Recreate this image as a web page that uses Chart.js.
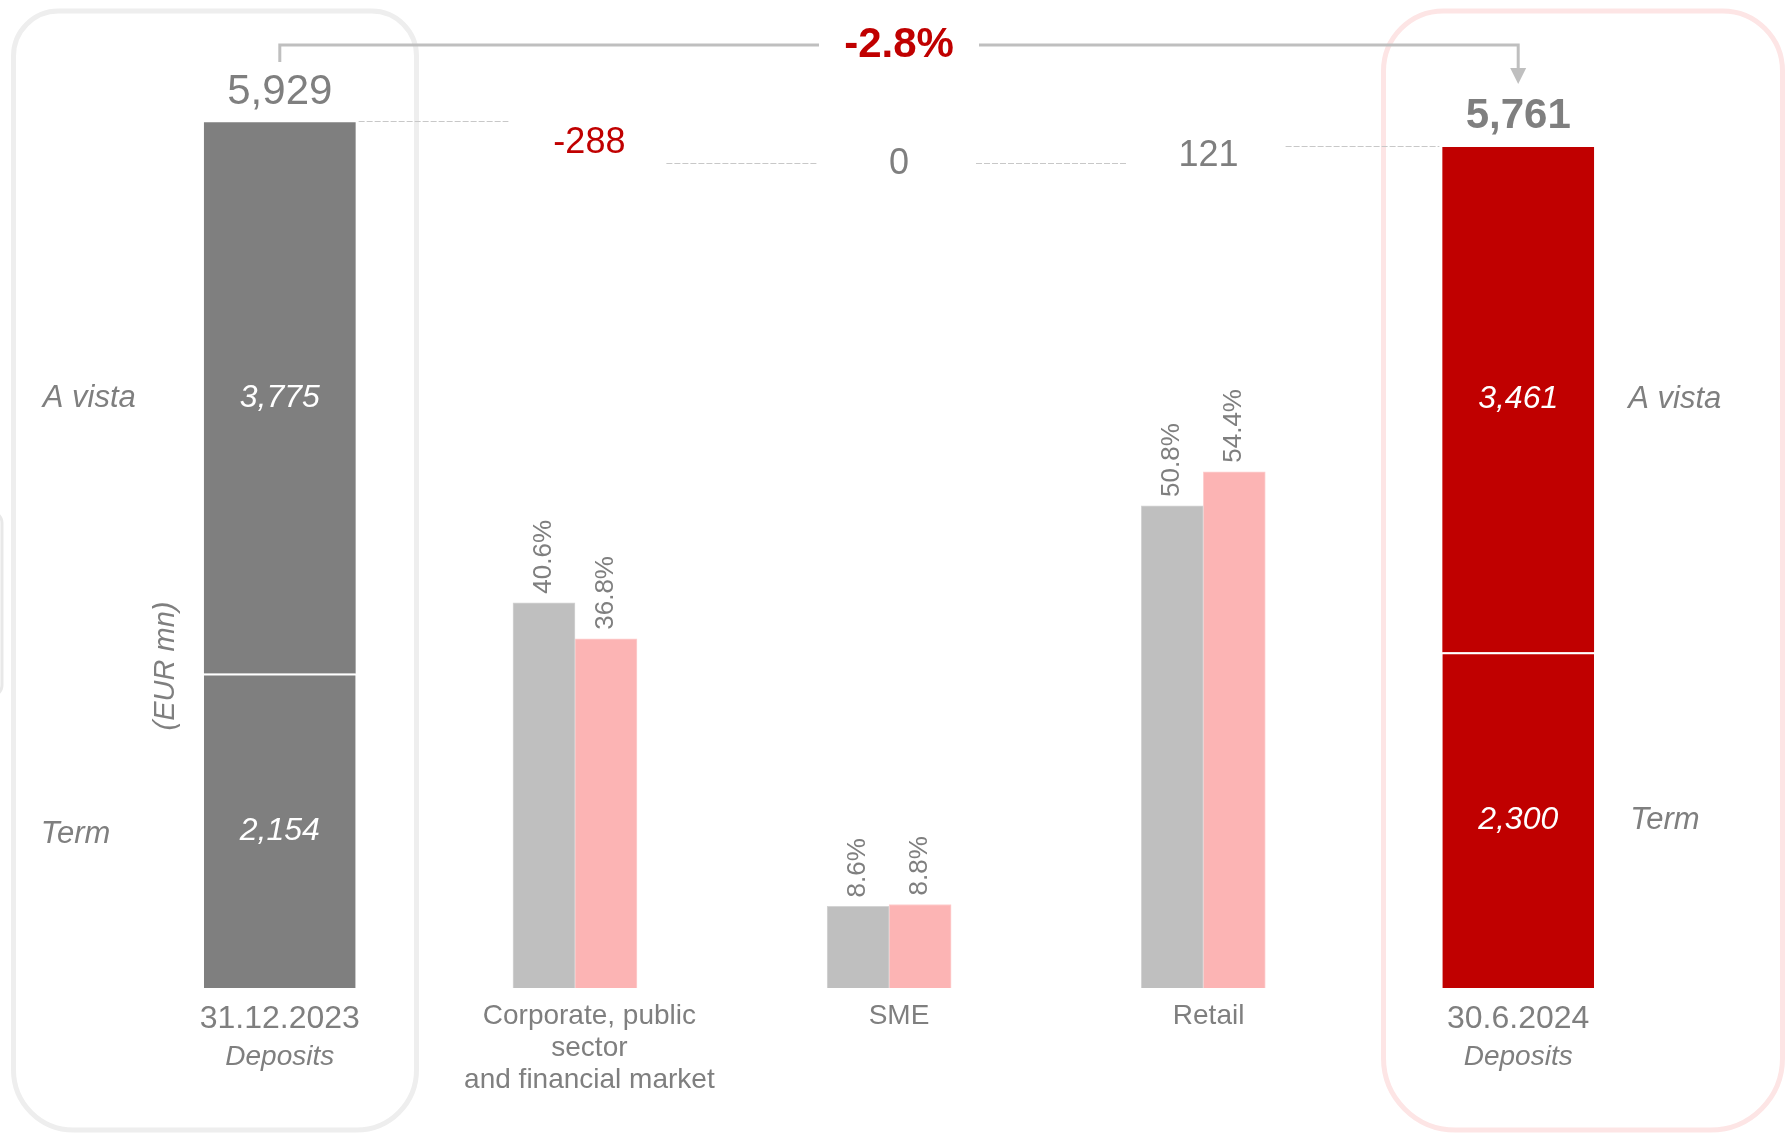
<!DOCTYPE html>
<html>
<head>
<meta charset="utf-8">
<title>Deposits bridge</title>
<script src="https://cdn.jsdelivr.net/npm/chart.js@4.4.1/dist/chart.umd.min.js"></script>
<style>
  html, body { margin: 0; padding: 0; background: #ffffff; }
  #wrap { width: 1786px; height: 1135px; position: relative; }
  canvas { display: block; }
</style>
</head>
<body>
<div id="wrap"><canvas id="chart" width="1786" height="1135"></canvas></div>
<script>
// ---- data -------------------------------------------------------------
const categories = ['31.12.2023', ['Corporate, public', 'sector', 'and financial market'], 'SME', 'Retail', '30.6.2024'];
const termDeposits   = [2154, null, null, null, 2300];
const aVistaDeposits = [3775, null, null, null, 3461];
const segmentChanges = [null, -288, 0, 121, null];
const share2023 = [null, 40.6, 8.6, 50.8, null];
const share2024 = [null, 36.8, 8.8, 54.4, null];

const aVistaLabel = 'A vista';
const termLabel = 'Term';
const unitLabel = '(EUR mn)';
const depositsCaption = 'Deposits';

// ---- derived values ---------------------------------------------------
const depositTotals = termDeposits.map((t, i) => (t == null ? null : t + aVistaDeposits[i]));
const firstTotal = depositTotals[0];
const lastTotal = depositTotals[depositTotals.length - 1];
const totalChangePct = (lastTotal - firstTotal) / firstTotal * 100;

// floating ranges for the segment steps of the bridge
let runningLevel = firstTotal;
const bridgeRanges = segmentChanges.map(d => {
  if (d == null) return null;
  const r = [runningLevel, runningLevel + d];
  runningLevel += d;
  return r;
});

// segment shares keyed by category index for the share axis
const toIndexed = arr => arr.map((v, i) => ({ x: i, y: v }));

// ---- styling ----------------------------------------------------------
const GREY_TEXT = '#7f7f7f';
const RED = '#c00000';
const depositColors = ['#7f7f7f', null, null, null, '#c00000'];
const FONT = "'Liberation Sans', Arial, Helvetica, sans-serif";
Chart.defaults.font.family = FONT;

const fmt = v => v.toLocaleString('en-US');

function text(ctx, str, x, y, opts) {
  ctx.save();
  ctx.font = (opts.style || '') + ' ' + (opts.weight || '') + ' ' + opts.size + 'px ' + FONT;
  ctx.fillStyle = opts.color || GREY_TEXT;
  ctx.textAlign = opts.align || 'center';
  ctx.textBaseline = 'middle';
  ctx.fillText(str, x, y);
  ctx.restore();
}

// frames behind the two deposit columns
const framesPlugin = {
  id: 'frames',
  beforeDatasetsDraw(chart) {
    const ctx = chart.ctx;
    ctx.save();
    ctx.lineWidth = 5;
    ctx.strokeStyle = '#eeeeee';
    ctx.beginPath();
    ctx.roundRect(13.5, 11, 403, 1119, [45, 45, 60, 60]);
    ctx.stroke();
    ctx.strokeStyle = '#fde5e5';
    ctx.beginPath();
    ctx.roundRect(1383.5, 11, 399, 1119, [60, 60, 72, 72]);
    ctx.stroke();
    ctx.lineWidth = 3;
    ctx.strokeStyle = '#e8e8e8';
    ctx.beginPath();
    ctx.roundRect(-20, 512, 22, 184, 12);
    ctx.stroke();
    ctx.restore();
  }
};

// value labels, connectors and the overall change marker
const labelsPlugin = {
  id: 'bridgeLabels',
  afterDatasetsDraw(chart) {
    const ctx = chart.ctx;
    const termEls = chart.getDatasetMeta(0).data;
    const vistaEls = chart.getDatasetMeta(1).data;
    const bridgeEls = chart.getDatasetMeta(2).data;
    const s23 = chart.getDatasetMeta(3).data;
    const s24 = chart.getDatasetMeta(4).data;
    const yb = chart.scales.yb;
    const xs = chart.scales.x;
    const last = categories.length - 1;

    // deposit columns
    [0, last].forEach(i => {
      const t = termEls[i], v = vistaEls[i];
      const tMid = (t.y + t.base) / 2;
      const vMid = (v.y + v.base) / 2;
      text(ctx, fmt(termDeposits[i]), t.x, tMid, { size: 32, style: 'italic', color: '#ffffff' });
      text(ctx, fmt(aVistaDeposits[i]), v.x, vMid, { size: 32, style: 'italic', color: '#ffffff' });
      const sideX = i === 0 ? v.x - 237 : v.x + 110;
      text(ctx, aVistaLabel, sideX, vMid, { size: 31, style: 'italic', align: 'left' });
      text(ctx, termLabel, sideX + (i === 0 ? -2 : 2), tMid + (i === 0 ? 4 : 0), { size: 31, style: 'italic', align: 'left' });
      text(ctx, fmt(depositTotals[i]), v.x, v.y - 30,
        { size: 42, weight: i === last ? 'bold' : '', color: GREY_TEXT });
      text(ctx, depositsCaption, xs.getPixelForValue(i), 1057, { size: 28, style: 'italic' });
    });

    // unit label
    ctx.save();
    ctx.translate(vistaEls[0].x - 114, 666);
    ctx.rotate(-Math.PI / 2);
    text(ctx, unitLabel, 0, 0, { size: 29, style: 'italic' });
    ctx.restore();

    // segment step labels
    segmentChanges.forEach((d, i) => {
      if (d == null) return;
      const el = bridgeEls[i];
      const mid = (el.y + el.base) / 2;
      text(ctx, fmt(d), el.x, mid, { size: 36, color: d < 0 ? RED : GREY_TEXT });
    });

    // dashed connectors between the steps
    const levels = [];
    const anchors = [];
    for (let i = 0; i <= last; i++) {
      if (depositTotals[i] != null) {
        levels.push(depositTotals[i]);
        anchors.push({ el: vistaEls[i], deposit: true });
      } else {
        levels.push(bridgeRanges[i][1]);
        anchors.push({ el: bridgeEls[i], deposit: false });
      }
    }
    ctx.save();
    ctx.strokeStyle = '#c8c8c8';
    ctx.lineWidth = 1;
    ctx.setLineDash([6, 2]);
    for (let i = 0; i < last; i++) {
      const a = anchors[i], b = anchors[i + 1];
      const x0 = a.deposit ? a.el.x + a.el.width / 2 + 3 : a.el.x + 77;
      const x1 = b.deposit ? b.el.x - b.el.width / 2 - 3 : b.el.x - 81;
      const y = Math.round(yb.getPixelForValue(levels[i])) - 0.5;
      ctx.beginPath();
      ctx.moveTo(x0, y);
      ctx.lineTo(x1, y);
      ctx.stroke();
    }
    ctx.restore();

    // overall change bracket with arrow
    const xL = vistaEls[0].x, xR = vistaEls[last].x;
    const xc = (xL + xR) / 2;
    const yLine = 45;
    ctx.save();
    ctx.strokeStyle = '#bfbfbf';
    ctx.fillStyle = '#bfbfbf';
    ctx.lineWidth = 3;
    ctx.beginPath();
    ctx.moveTo(xL, 62);
    ctx.lineTo(xL, yLine);
    ctx.lineTo(xc - 80, yLine);
    ctx.moveTo(xc + 80, yLine);
    ctx.lineTo(xR, yLine);
    ctx.lineTo(xR, 70);
    ctx.stroke();
    ctx.beginPath();
    ctx.moveTo(xR - 8, 68);
    ctx.lineTo(xR + 8, 68);
    ctx.lineTo(xR, 84);
    ctx.closePath();
    ctx.fill();
    ctx.restore();
    text(ctx, totalChangePct.toFixed(1) + '%', xc, yLine, { size: 42, weight: 'bold', color: RED });

    // share labels above the segment bars
    [[s23, share2023], [s24, share2024]].forEach(([els, vals]) => {
      vals.forEach((v, i) => {
        if (v == null) return;
        const el = els[i];
        ctx.save();
        ctx.translate(el.x, el.y - 9);
        ctx.rotate(-Math.PI / 2);
        text(ctx, v.toFixed(1) + '%', 0, 0, { size: 26, align: 'left' });
        ctx.restore();
      });
    });
  }
};

new Chart(document.getElementById('chart'), {
  type: 'bar',
  data: {
    labels: categories,
    datasets: [
      {
        label: termLabel,
        data: termDeposits,
        backgroundColor: depositColors,
        borderColor: '#ffffff',
        borderWidth: { top: 2, left: 0, right: 0, bottom: 0 },
        borderSkipped: false,
        stack: 'deposits',
        xAxisID: 'x', yAxisID: 'y',
        grouped: false,
        barPercentage: 0.49, categoryPercentage: 1
      },
      {
        label: aVistaLabel,
        data: aVistaDeposits,
        backgroundColor: depositColors,
        borderWidth: 0,
        stack: 'deposits',
        xAxisID: 'x', yAxisID: 'y',
        grouped: false,
        barPercentage: 0.49, categoryPercentage: 1
      },
      {
        label: 'Change',
        data: bridgeRanges,
        backgroundColor: 'rgba(0,0,0,0)',
        borderWidth: 0,
        xAxisID: 'x', yAxisID: 'yb',
        grouped: false,
        barPercentage: 0.49, categoryPercentage: 1
      },
      {
        label: '31.12.2023 share',
        data: toIndexed(share2023),
        backgroundColor: '#bfbfbf',
        borderColor: '#d4d4d4',
        borderWidth: 1,
        xAxisID: 'xs', yAxisID: 'ys',
        barThickness: 62
      },
      {
        label: '30.6.2024 share',
        data: toIndexed(share2024),
        backgroundColor: '#fcb4b4',
        borderColor: '#fdd0d0',
        borderWidth: 1,
        xAxisID: 'xs', yAxisID: 'ys',
        barThickness: 62
      }
    ]
  },
  options: {
    responsive: false,
    animation: false,
    devicePixelRatio: 1,
    layout: { padding: { left: 125, right: 113, top: 39, bottom: 0 } },
    plugins: { legend: { display: false }, tooltip: { enabled: false } },
    scales: {
      x: {
        type: 'category',
        offset: true,
        grid: { display: false, drawTicks: false },
        border: { display: false },
        ticks: {
          color: GREY_TEXT,
          padding: 12,
          autoSkip: false,
          maxRotation: 0,
          minRotation: 0,
          font: ctx => (ctx.index === 0 || ctx.index === categories.length - 1)
            ? { size: 32, lineHeight: 1.2 }
            : { size: 28, lineHeight: 1.15 }
        },
        afterFit: scale => { scale.height = 147; }
      },
      // segment clusters sit on their own, slightly wider-spaced index axis
      xs: { type: 'linear', offset: false, min: -0.4324, max: 4.4952, display: false },
      y:  { stacked: true, min: 0, max: 6500, display: false },
      yb: { min: 0, max: 6500, display: false },
      ys: { min: 0, max: 100, display: false }
    }
  },
  plugins: [framesPlugin, labelsPlugin]
});
</script>
</body>
</html>
